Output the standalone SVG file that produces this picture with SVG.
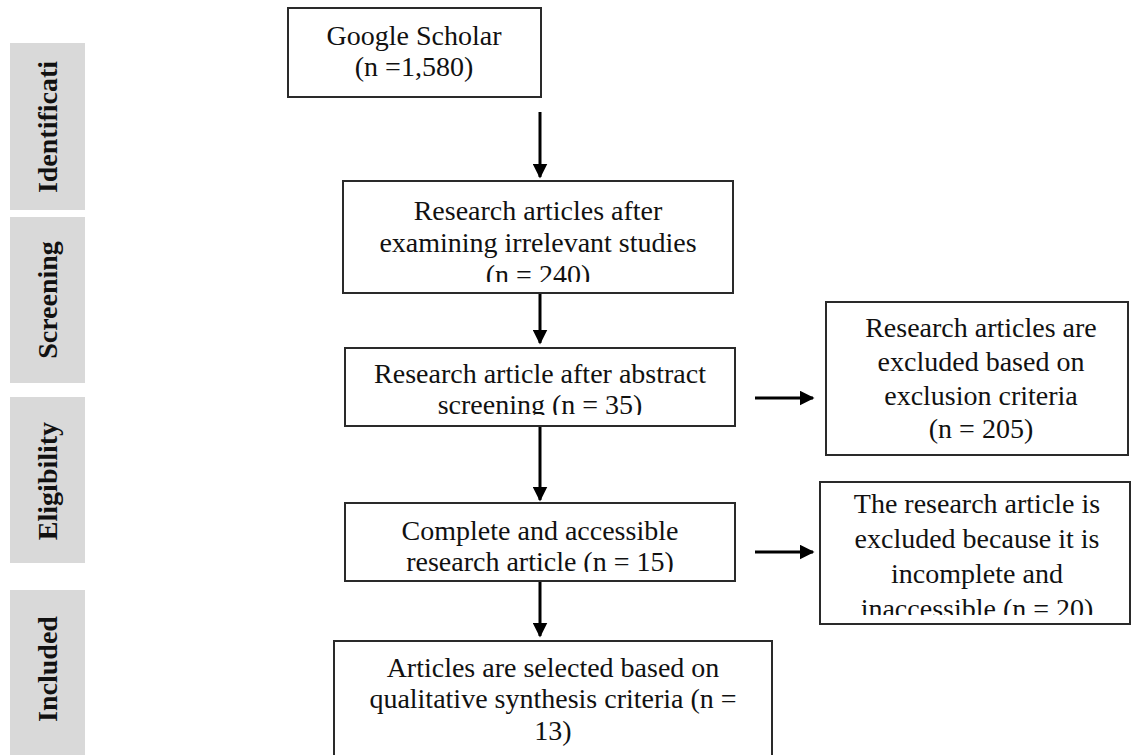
<svg xmlns="http://www.w3.org/2000/svg" width="1132" height="755" viewBox="0 0 1132 755">
<style>
.box{fill:#fff;stroke:#2a2a2a;stroke-width:2}
.bar{fill:#d9d9d9}
.t{font-family:"Liberation Serif","Times New Roman",serif;font-size:28px;fill:#111;text-anchor:middle}
.s{font-family:"Liberation Serif","Times New Roman",serif;font-size:28px;font-weight:bold;fill:#111;text-anchor:middle}
.c{stroke:#000;stroke-width:3;fill:none}
</style>
<defs>
<marker id="ah" viewBox="0 0 10 10" refX="9" refY="5" markerWidth="5" markerHeight="5" markerUnits="strokeWidth" orient="auto">
<path d="M0,0 L10,5 L0,10 z" fill="#000"/>
</marker>
<clipPath id="c2"><rect x="343" y="181" width="390" height="101"/></clipPath>
<clipPath id="c3"><rect x="345" y="348" width="390" height="67"/></clipPath>
<clipPath id="c4"><rect x="345" y="503" width="390" height="69"/></clipPath>
<clipPath id="c7"><rect x="820" y="482" width="310" height="133"/></clipPath>
</defs>
<rect width="1132" height="755" fill="#fff"/>
<g id="stages">
<g id="stage-identification"><rect class="bar" x="10" y="43" width="75" height="167"/><text class="s" transform="translate(57,127) rotate(-90)">Identificati</text></g>
<g id="stage-screening"><rect class="bar" x="10" y="217" width="75" height="166"/><text class="s" transform="translate(57,300) rotate(-90)">Screening</text></g>
<g id="stage-eligibility"><rect class="bar" x="10" y="397" width="75" height="166"/><text class="s" transform="translate(57,481) rotate(-90)">Eligibility</text></g>
<g id="stage-included"><rect class="bar" x="10" y="590" width="75" height="165"/><text class="s" transform="translate(57,669) rotate(-90)">Included</text></g>
</g>
<g id="connectors">
<line class="c" x1="540" y1="112" x2="540" y2="177" marker-end="url(#ah)"/>
<line class="c" x1="540" y1="293" x2="540" y2="343" marker-end="url(#ah)"/>
<line class="c" x1="540" y1="426" x2="540" y2="500" marker-end="url(#ah)"/>
<line class="c" x1="540" y1="581" x2="540" y2="636" marker-end="url(#ah)"/>
<line class="c" x1="755" y1="398" x2="813" y2="398" marker-end="url(#ah)"/>
<line class="c" x1="755" y1="552" x2="813" y2="552" marker-end="url(#ah)"/>
</g>
<g id="node-google">
<rect class="box" x="288" y="8" width="253" height="89"/>
<text class="t" x="414" y="45">Google Scholar</text>
<text class="t" x="414" y="76">(n =1,580)</text>
</g>
<g id="node-irrelevant">
<rect class="box" x="343" y="181" width="390" height="112"/>
<g clip-path="url(#c2)">
<text class="t" x="538" y="220">Research articles after</text>
<text class="t" x="538" y="252">examining irrelevant studies</text>
<text class="t" x="538" y="284">(n = 240)</text>
</g>
</g>
<g id="node-abstract">
<rect class="box" x="345" y="348" width="390" height="78"/>
<g clip-path="url(#c3)">
<text class="t" x="540" y="383">Research article after abstract</text>
<text class="t" x="540" y="414">screening (n = 35)</text>
</g>
</g>
<g id="node-complete">
<rect class="box" x="345" y="503" width="390" height="78"/>
<g clip-path="url(#c4)">
<text class="t" x="540" y="540">Complete and accessible</text>
<text class="t" x="540" y="571">research article (n = 15)</text>
</g>
</g>
<g id="node-selected">
<rect class="box" x="334" y="641" width="438" height="130"/>
<text class="t" x="553" y="677">Articles are selected based on</text>
<text class="t" x="553" y="708">qualitative synthesis criteria (n =</text>
<text class="t" x="553" y="740">13)</text>
</g>
<g id="node-excluded-criteria">
<rect class="box" x="826" y="302" width="302" height="153"/>
<text class="t" x="981" y="337">Research articles are</text>
<text class="t" x="981" y="371">excluded based on</text>
<text class="t" x="981" y="405">exclusion criteria</text>
<text class="t" x="981" y="438">(n = 205)</text>
</g>
<g id="node-excluded-incomplete">
<rect class="box" x="820" y="482" width="310" height="142"/>
<g clip-path="url(#c7)">
<text class="t" x="977" y="513">The research article is</text>
<text class="t" x="977" y="548">excluded because it is</text>
<text class="t" x="977" y="583">incomplete and</text>
<text class="t" x="977" y="618">inaccessible (n = 20)</text>
</g>
</g>
</svg>
